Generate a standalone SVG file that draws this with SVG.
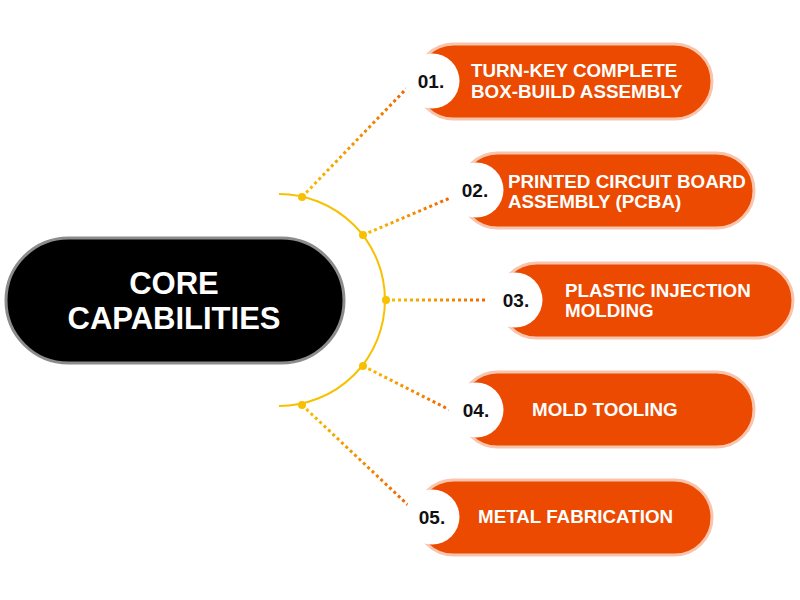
<svg xmlns="http://www.w3.org/2000/svg" width="800" height="600" viewBox="0 0 800 600">
<style>
.pill{fill:#EB4A00;stroke:#F9C4AC;stroke-width:3}
.hole{fill:#FFFFFF}
.num{font-family:"Liberation Sans",Arial,sans-serif;font-weight:bold;font-size:19px;fill:#111111;text-anchor:middle}
.lbl{font-family:"Liberation Sans",Arial,sans-serif;font-weight:bold;font-size:18.8px;fill:#FFFFFF}
.core{font-family:"Liberation Sans",Arial,sans-serif;font-weight:bold;font-size:31px;fill:#FFFFFF;text-anchor:middle}
.dash{fill:none;stroke-width:3;stroke-dasharray:3 3}
.dot{fill:#F8C000}
</style>
<defs>
<linearGradient id="g1" gradientUnits="userSpaceOnUse" x1="302" y1="197" x2="408" y2="87"><stop offset="0" stop-color="#F8C000"/><stop offset="1" stop-color="#F06400"/></linearGradient>
<linearGradient id="g2" gradientUnits="userSpaceOnUse" x1="363" y1="235" x2="450" y2="198"><stop offset="0" stop-color="#F8C000"/><stop offset="1" stop-color="#F06400"/></linearGradient>
<linearGradient id="g3" gradientUnits="userSpaceOnUse" x1="386" y1="300" x2="490" y2="300"><stop offset="0" stop-color="#F8C000"/><stop offset="1" stop-color="#F06400"/></linearGradient>
<linearGradient id="g4" gradientUnits="userSpaceOnUse" x1="363" y1="366" x2="450" y2="410"><stop offset="0" stop-color="#F8C000"/><stop offset="1" stop-color="#F06400"/></linearGradient>
<linearGradient id="g5" gradientUnits="userSpaceOnUse" x1="302" y1="405" x2="408" y2="505"><stop offset="0" stop-color="#F8C000"/><stop offset="1" stop-color="#F06400"/></linearGradient>
</defs>
<rect width="800" height="600" fill="#FFFFFF"/>
<g id="connectors">
<path d="M 279 194 A 105 105 0 0 1 279 406" fill="none" stroke="#F8C000" stroke-width="2"/>
<line class="dash" x1="302" y1="197" x2="408" y2="87" stroke="url(#g1)"/>
<line class="dash" x1="363" y1="235" x2="450" y2="198" stroke="url(#g2)"/>
<line class="dash" x1="386" y1="300" x2="490" y2="300" stroke="url(#g3)"/>
<line class="dash" x1="363" y1="366" x2="450" y2="410" stroke="url(#g4)"/>
<line class="dash" x1="302" y1="405" x2="408" y2="505" stroke="url(#g5)"/>
<circle class="dot" cx="302" cy="197" r="4"/>
<circle class="dot" cx="363" cy="235" r="4"/>
<circle class="dot" cx="386" cy="300" r="4"/>
<circle class="dot" cx="363" cy="366" r="4"/>
<circle class="dot" cx="302" cy="405" r="4"/>
</g>
<g id="core">
<rect x="6" y="238" width="338" height="125" rx="62.5" fill="#000000" stroke="#8C8C8C" stroke-width="3"/>
<text class="core" x="174" y="294">CORE</text>
<text class="core" x="174" y="329">CAPABILITIES</text>
</g>
<g id="node1">
<rect class="pill" x="416" y="44" width="296" height="75" rx="37.5"/>
<circle class="hole" cx="432" cy="81" r="27.5"/>
<text class="num" x="431" y="88">01.</text>
<text class="lbl" x="471" y="77">TURN-KEY COMPLETE</text>
<text class="lbl" x="471" y="98">BOX-BUILD ASSEMBLY</text>
</g>
<g id="node2">
<rect class="pill" x="460" y="153" width="294" height="75" rx="37.5"/>
<circle class="hole" cx="476" cy="190" r="27.5"/>
<text class="num" x="475" y="197">02.</text>
<text class="lbl" x="508" y="188">PRINTED CIRCUIT BOARD</text>
<text class="lbl" x="508" y="208">ASSEMBLY (PCBA)</text>
</g>
<g id="node3">
<rect class="pill" x="499" y="263" width="294" height="75" rx="37.5"/>
<circle class="hole" cx="515" cy="300" r="27.5"/>
<text class="num" x="516" y="307">03.</text>
<text class="lbl" x="565" y="297">PLASTIC INJECTION</text>
<text class="lbl" x="565" y="317">MOLDING</text>
</g>
<g id="node4">
<rect class="pill" x="460" y="372" width="294" height="75" rx="37.5"/>
<circle class="hole" cx="476" cy="410" r="27.5"/>
<text class="num" x="476" y="417">04.</text>
<text class="lbl" x="532" y="416">MOLD TOOLING</text>
</g>
<g id="node5">
<rect class="pill" x="416" y="480" width="296" height="75" rx="37.5"/>
<circle class="hole" cx="432" cy="517" r="27.5"/>
<text class="num" x="432" y="524">05.</text>
<text class="lbl" x="478" y="523">METAL FABRICATION</text>
</g>
</svg>
